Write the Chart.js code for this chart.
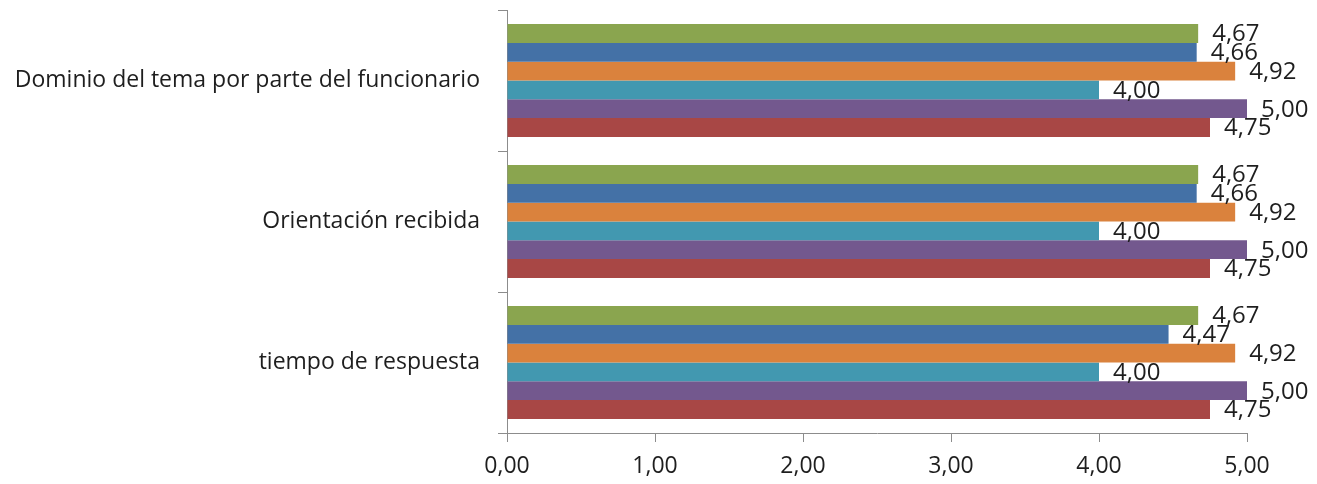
<!DOCTYPE html>
<html>
<head>
<meta charset="utf-8">
<script src="https://cdn.jsdelivr.net/npm/chart.js@4/dist/chart.umd.min.js"></script>
<style>
  html, body { margin: 0; padding: 0; background: #ffffff; }
  #wrap { width: 1317px; height: 484px; }
</style>
</head>
<body>
<div id="wrap"><canvas id="c" width="1317" height="484"></canvas></div>
<script>
// Categories, top to bottom
const categories = [
  'Dominio del tema por parte del funcionario',
  'Orientación recibida',
  'tiempo de respuesta'
];

// Series values per category (same order as categories)
const serieVerde   = [4.67, 4.67, 4.67];
const serieAzul    = [4.66, 4.66, 4.47];
const serieNaranja = [4.92, 4.92, 4.92];
const serieTurquesa= [4.00, 4.00, 4.00];
const serieMorada  = [5.00, 5.00, 5.00];
const serieRoja    = [4.75, 4.75, 4.75];

// Value axis tick values
const xTicks = [0, 1, 2, 3, 4, 5];

const fmt = v => v.toFixed(2).replace('.', ',');
const FONT = '"Open Sans", "Liberation Sans", sans-serif';

// Draws the value beside the end of each bar
const valueLabels = {
  id: 'valueLabels',
  afterDatasetsDraw(chart) {
    const ctx = chart.ctx;
    ctx.save();
    ctx.font = '24px ' + FONT;
    ctx.fillStyle = '#1e1e1e';
    ctx.textAlign = 'left';
    ctx.textBaseline = 'middle';
    chart.data.datasets.forEach((ds, i) => {
      const meta = chart.getDatasetMeta(i);
      meta.data.forEach((bar, j) => {
        ctx.fillText(fmt(ds.data[j]), bar.x + 14, bar.y + 1);
      });
    });
    ctx.restore();
  }
};

new Chart(document.getElementById('c'), {
  type: 'bar',
  data: {
    labels: categories,
    datasets: [
      { data: serieVerde,    backgroundColor: '#8aa54f' },
      { data: serieAzul,     backgroundColor: '#4471a6' },
      { data: serieNaranja,  backgroundColor: '#da823d' },
      { data: serieTurquesa, backgroundColor: '#4298b0' },
      { data: serieMorada,   backgroundColor: '#73588e' },
      { data: serieRoja,     backgroundColor: '#a84745' }
    ]
  },
  options: {
    indexAxis: 'y',
    responsive: false,
    animation: false,
    events: [],
    datasets: {
      bar: { categoryPercentage: 0.8, barPercentage: 1.0, borderWidth: 0 }
    },
    layout: { padding: { left: 0, right: 70, top: 10, bottom: 0 } },
    plugins: {
      legend: { display: false },
      tooltip: { enabled: false },
      title: { display: false }
    },
    scales: {
      x: {
        min: 0,
        max: 5,
        afterBuildTicks: s => { s.ticks = xTicks.map(v => ({ value: v })); },
        afterFit: s => { s.height = 51; },
        grid: { drawOnChartArea: false, drawTicks: true, tickLength: 9, color: '#8c8c8c' },
        border: { display: true, color: '#8c8c8c', width: 1 },
        ticks: {
          padding: 11,
          color: '#1e1e1e',
          font: { family: FONT, size: 23 },
          callback: v => fmt(v)
        }
      },
      y: {
        afterFit: s => { s.width = 507; s.paddingTop = 0; s.paddingBottom = 0; },
        grid: { drawOnChartArea: false, drawTicks: true, tickLength: 9, offset: true, color: '#8c8c8c' },
        border: { display: true, color: '#8c8c8c', width: 1 },
        ticks: {
          padding: 18,
          color: '#1e1e1e',
          font: { family: FONT, size: 23 }
        }
      }
    }
  },
  plugins: [valueLabels]
});
</script>
</body>
</html>
